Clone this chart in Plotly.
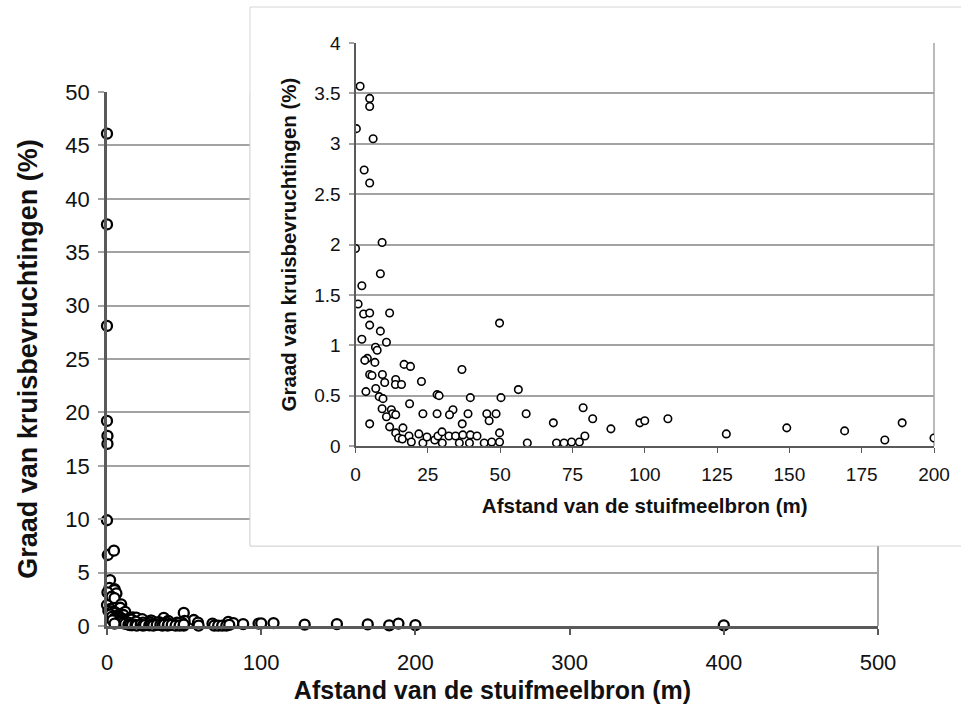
import plotly.graph_objects as go

# Pollen source distance (m) vs. cross-pollination rate (%)
afstand = [
    0.0, 0.0, 0.0, 0.0, 0.3, 0.3, 0.0, 0.5, 4.5, 2.0,
    1.6, 4.9, 4.9, 0.3, 6.1, 3.0, 4.9, 9.2, 0.0,
    8.6, 2.2, 0.9, 2.8, 4.9, 11.8, 4.9, 8.6, 2.2, 10.7,
    6.9, 7.5, 4.1, 3.2, 6.7, 16.8, 19.0, 36.8, 4.9, 5.7,
    9.3, 13.9, 22.8, 10.1, 13.8, 15.9, 7.0, 3.6, 8.2, 9.5,
    28.2, 28.9, 39.7, 18.7, 9.2, 12.4, 33.7, 12.8, 13.9, 23.3,
    28.2, 32.5, 38.9, 10.7, 4.9, 36.9, 11.8, 16.4, 13.9, 14.9,
    16.2, 18.5, 19.3, 21.9, 23.3, 24.7, 27.4, 28.5, 29.9, 30.0,
    32.3, 34.6, 35.9, 37.1, 39.4, 39.7, 42.0,
    49.8, 56.3, 50.3, 45.4, 48.6, 46.2, 59.0, 78.7, 68.4, 82.0,
    88.3, 98.3, 100.0, 108.0, 128.2, 44.5, 47.1, 49.8, 49.8, 59.4,
    69.5, 72.1, 74.7, 77.4, 79.3,
    149.1, 169.1, 183.0, 189.0, 200.0,
    400.0,
]
kruisbevruchting = [
    46.1, 37.6, 28.1, 19.2, 17.8, 17.05, 9.9, 6.65, 7.05, 4.3,
    3.57, 3.45, 3.37, 3.15, 3.05, 2.74, 2.61, 2.02, 1.96,
    1.71, 1.59, 1.41, 1.31, 1.32, 1.32, 1.20, 1.14, 1.06, 1.03,
    0.98, 0.95, 0.87, 0.85, 0.83, 0.81, 0.79, 0.76, 0.71, 0.70,
    0.71, 0.66, 0.64, 0.63, 0.61, 0.61, 0.57, 0.54, 0.49, 0.47,
    0.51, 0.50, 0.48, 0.42, 0.37, 0.36, 0.36, 0.32, 0.31, 0.32,
    0.32, 0.31, 0.32, 0.29, 0.22, 0.22, 0.19, 0.18, 0.13, 0.08,
    0.07, 0.10, 0.04, 0.12, 0.03, 0.09, 0.06, 0.10, 0.14, 0.03,
    0.10, 0.10, 0.03, 0.11, 0.03, 0.11, 0.10,
    1.22, 0.56, 0.48, 0.32, 0.32, 0.25, 0.32, 0.38, 0.23, 0.27,
    0.17, 0.23, 0.25, 0.27, 0.12, 0.03, 0.04, 0.04, 0.13, 0.03,
    0.03, 0.03, 0.04, 0.04, 0.10,
    0.18, 0.15, 0.06, 0.23, 0.08,
    0.05,
]

main_x_ticks = [0, 100, 200, 300, 400, 500]
main_y_ticks = [0, 5, 10, 15, 20, 25, 30, 35, 40, 45, 50]
inset_x_ticks = [0, 25, 50, 75, 100, 125, 150, 175, 200]
inset_y_ticks = [0, 0.5, 1, 1.5, 2, 2.5, 3, 3.5, 4]
inset_y_labels = ["0", "0.5", "1", "1.5", "2", "2.5", "3", "3.5", "4"]

x_title = "Afstand van de stuifmeelbron (m)"
y_title = "Graad van kruisbevruchtingen (%)"

# ---- page geometry (pixels) ----
W, H = 961, 728
ML, MR, MT, MB = 107, 20, 30, 102
PW, PH = W - ML - MR, H - MT - MB


def fx(px):
    return (px - ML) / PW


def fy(py):
    return (H - MB - py) / PH


MAIN_L, MAIN_R, MAIN_T, MAIN_B = 107, 878, 92, 626
INS_L, INS_R, INS_T, INS_B = 355.5, 934, 43, 446
BOX_L, BOX_T, BOX_B = 250, 7, 546

MAIN_X_RANGE = [0, 500]
MAIN_Y_RANGE = [0, 50]

FONT = "Liberation Sans, Arial, sans-serif"
INK = "#111111"
AXIS = "#5a5a5a"
GRID = "#a3a3a3"
FRAME = "#d6d6d6"

fig = go.Figure()

fig.add_trace(go.Scatter(
    x=afstand, y=kruisbevruchting, mode="markers",
    marker=dict(symbol="circle", size=10, color="white",
                line=dict(color="black", width=2.3)),
    xaxis="x", yaxis="y", cliponaxis=False, hoverinfo="x+y",
))
fig.add_trace(go.Scatter(
    x=afstand, y=kruisbevruchting, mode="markers",
    marker=dict(symbol="circle", size=7.5, color="white",
                line=dict(color="black", width=1.6)),
    xaxis="x2", yaxis="y2", cliponaxis=True, hoverinfo="x+y",
))

# main-axis data coordinates of the inset panel's lower-left corner
box_left_data = (BOX_L - MAIN_L) / (MAIN_R - MAIN_L) * (MAIN_X_RANGE[1] - MAIN_X_RANGE[0])
box_bottom_data = (MAIN_B - BOX_B) / (MAIN_B - MAIN_T) * (MAIN_Y_RANGE[1] - MAIN_Y_RANGE[0])

shapes = [
    # inset panel (full outline, beneath everything)
    dict(type="rect", xref="paper", yref="paper",
         x0=fx(BOX_L), x1=fx(W + 20), y0=fy(BOX_B), y1=fy(BOX_T),
         fillcolor="white", line=dict(color=FRAME, width=1), layer="below"),
    # inset panel over the main plot area, hiding the main gridlines
    dict(type="rect", xref="x", yref="y",
         x0=box_left_data, x1=MAIN_X_RANGE[1] * 1.2,
         y0=box_bottom_data, y1=MAIN_Y_RANGE[1] * 1.2,
         fillcolor="white", line=dict(color=FRAME, width=1), layer="between"),
    # right edge of the main plot area below the inset
    dict(type="line", xref="paper", yref="paper",
         x0=fx(MAIN_R), x1=fx(MAIN_R), y0=fy(MAIN_B), y1=fy(BOX_B),
         line=dict(color=GRID, width=2), layer="below"),
    # right edge of the inset plot area
    dict(type="line", xref="paper", yref="paper",
         x0=fx(INS_R), x1=fx(INS_R), y0=fy(INS_B), y1=fy(INS_T),
         line=dict(color=GRID, width=1.5), layer="below"),
]

fig.update_layout(
    width=W, height=H,
    margin=dict(l=ML, r=MR, t=MT, b=MB, pad=0, autoexpand=False),
    paper_bgcolor="white", plot_bgcolor="rgba(0,0,0,0)",
    showlegend=False,
    font=dict(family=FONT, color=INK),
    shapes=shapes,
    xaxis=dict(
        domain=[fx(MAIN_L), fx(MAIN_R)], anchor="y", automargin=False,
        range=MAIN_X_RANGE, tickmode="array", tickvals=main_x_ticks,
        showgrid=False, zeroline=False,
        showline=True, linecolor=AXIS, linewidth=2.5,
        ticks="outside", ticklen=6, tickwidth=1.5, tickcolor=AXIS,
        tickfont=dict(size=22, family=FONT, color=INK),
        ticklabelstandoff=9,
        title=dict(text=x_title, standoff=8,
                   font=dict(size=25, family=FONT, color=INK, weight="bold")),
    ),
    yaxis=dict(
        domain=[fy(MAIN_B), fy(MAIN_T)], anchor="x", automargin=False,
        range=MAIN_Y_RANGE, tickmode="array", tickvals=main_y_ticks,
        showgrid=True, gridcolor=GRID, gridwidth=2, zeroline=False,
        showline=True, linecolor=AXIS, linewidth=2.5,
        ticks="outside", ticklen=6, tickwidth=2, tickcolor=GRID,
        tickfont=dict(size=22, family=FONT, color=INK),
        ticklabelstandoff=4,
        title=dict(text=y_title, standoff=20,
                   font=dict(size=27, family=FONT, color=INK, weight="bold")),
    ),
    xaxis2=dict(
        domain=[fx(INS_L), fx(INS_R)], anchor="y2", automargin=False,
        range=[0, 200], tickmode="array", tickvals=inset_x_ticks,
        showgrid=False, zeroline=False,
        showline=True, linecolor=AXIS, linewidth=2,
        ticks="outside", ticklen=5, tickwidth=1.2, tickcolor=AXIS,
        tickfont=dict(size=19, family=FONT, color=INK),
        ticklabelstandoff=5,
        title=dict(text=x_title, standoff=15,
                   font=dict(size=20.5, family=FONT, color=INK, weight="bold")),
    ),
    yaxis2=dict(
        domain=[fy(INS_B), fy(INS_T)], anchor="x2", automargin=False,
        range=[0, 4], tickmode="array", tickvals=inset_y_ticks,
        ticktext=inset_y_labels,
        showgrid=True, gridcolor=GRID, gridwidth=1.5, zeroline=False,
        showline=True, linecolor=AXIS, linewidth=2,
        ticks="outside", ticklen=5, tickwidth=1.5, tickcolor=GRID,
        tickfont=dict(size=19, family=FONT, color=INK),
        ticklabelstandoff=4,
        title=dict(text=y_title, standoff=12,
                   font=dict(size=20.5, family=FONT, color=INK, weight="bold")),
    ),
)

fig.write_html("out.html")
